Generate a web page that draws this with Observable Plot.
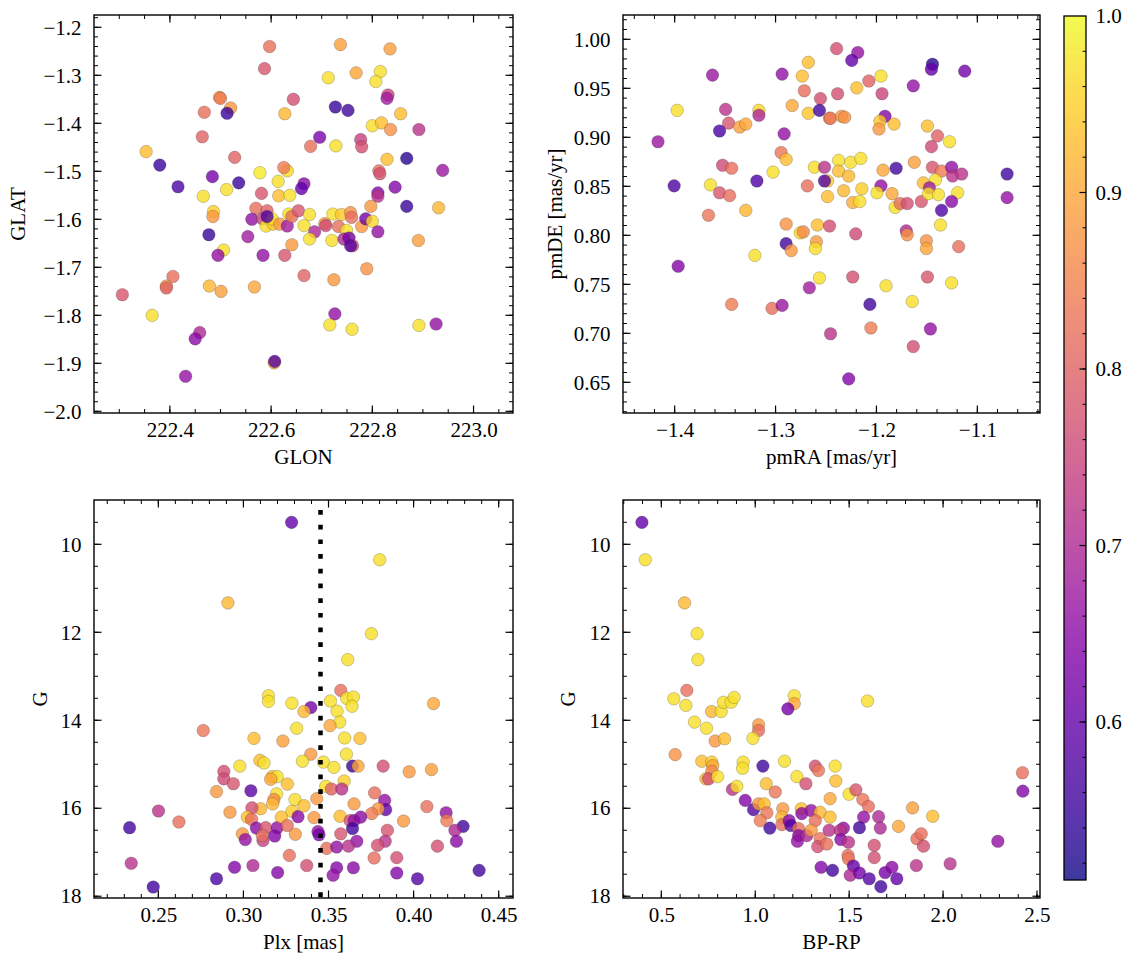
<!DOCTYPE html>
<html><head><meta charset="utf-8">
<script src="https://cdn.jsdelivr.net/npm/d3@7"></script>
<script src="https://cdn.jsdelivr.net/npm/@observablehq/plot@0.6"></script>
<style>
body{margin:0;background:#fff;}
#fig{position:relative;width:1133px;height:965px;background:#fff;overflow:hidden;}
#fig svg{position:absolute;overflow:visible;}
</style></head><body><div id="fig"></div>
<script>
const FONT = "'Liberation Serif', 'DejaVu Serif', serif";
const FS = 21;
const probDomain = [0.5105, 1.0];

// [GLON, GLAT, probability]
const galPts = [
[222.596,-1.239,0.82],[222.586,-1.285,0.78],[222.497,-1.345,0.88],[222.499,-1.347,0.84],[222.643,-1.349,0.77],
[222.519,-1.367,0.88],[222.512,-1.378,0.55],[222.467,-1.376,0.82],[222.626,-1.379,0.92],[222.463,-1.427,0.80],
[222.352,-1.458,0.93],[222.527,-1.470,0.80],[222.379,-1.486,0.55],[222.631,-1.498,0.96],[222.624,-1.491,0.84],
[222.577,-1.502,0.98],[222.483,-1.510,0.62],[222.535,-1.523,0.55],[222.415,-1.531,0.57],[222.613,-1.520,0.97],
[222.465,-1.551,0.97],[222.511,-1.537,0.97],[222.580,-1.545,0.78],[222.614,-1.550,0.93],[222.636,-1.549,0.97],
[222.664,-1.525,0.65],[222.659,-1.535,0.60],[222.485,-1.583,0.95],[222.484,-1.593,0.88],[222.569,-1.576,0.82],
[222.591,-1.581,0.80],[222.561,-1.599,0.66],[222.582,-1.598,0.75],[222.589,-1.613,0.97],[222.603,-1.609,0.94],
[222.601,-1.598,0.97],[222.591,-1.593,0.58],[222.616,-1.609,0.88],[222.631,-1.613,0.68],[222.634,-1.588,0.97],
[222.640,-1.593,0.82],[222.653,-1.581,0.78],[222.664,-1.612,0.97],[222.476,-1.631,0.55],[222.553,-1.635,0.68],
[222.505,-1.663,0.97],[222.494,-1.674,0.66],[222.583,-1.674,0.66],[222.626,-1.674,0.78],[222.640,-1.652,0.88],
[222.405,-1.718,0.82],[222.392,-1.738,0.88],[222.392,-1.742,0.80],[222.305,-1.756,0.78],[222.477,-1.738,0.92],
[222.500,-1.749,0.89],[222.566,-1.740,0.90],[222.664,-1.716,0.80],[222.364,-1.799,0.97],[222.458,-1.835,0.70],
[222.449,-1.848,0.65],[222.605,-1.898,0.92],[222.606,-1.895,0.58],[222.430,-1.926,0.66],
[222.736,-1.235,0.89],[222.834,-1.244,0.89],[222.712,-1.304,0.97],[222.767,-1.294,0.90],[222.815,-1.291,0.97],
[222.806,-1.312,0.97],[222.830,-1.340,0.75],[222.828,-1.347,0.68],[222.726,-1.365,0.55],[222.751,-1.372,0.56],
[222.855,-1.379,0.93],[222.799,-1.404,0.97],[222.817,-1.398,0.93],[222.835,-1.412,0.87],[222.891,-1.412,0.72],
[222.695,-1.428,0.63],[222.677,-1.447,0.82],[222.727,-1.446,0.97],[222.776,-1.433,0.74],[222.778,-1.448,0.77],
[222.828,-1.474,0.93],[222.867,-1.472,0.53],[222.938,-1.497,0.67],[222.812,-1.498,0.82],[222.814,-1.504,0.77],
[222.810,-1.544,0.65],[222.810,-1.551,0.72],[222.844,-1.532,0.64],[222.867,-1.572,0.55],[222.930,-1.575,0.92],
[222.796,-1.572,0.88],[222.675,-1.589,0.97],[222.721,-1.588,0.97],[222.738,-1.589,0.94],[222.756,-1.585,0.87],
[222.758,-1.595,0.82],[222.705,-1.608,0.88],[222.707,-1.612,0.76],[222.685,-1.625,0.70],[222.675,-1.640,0.97],
[222.719,-1.643,0.97],[222.732,-1.614,0.82],[222.748,-1.622,0.97],[222.743,-1.640,0.70],[222.753,-1.638,0.62],
[222.760,-1.654,0.77],[222.756,-1.654,0.58],[222.778,-1.614,0.88],[222.786,-1.598,0.62],[222.799,-1.603,0.96],
[222.810,-1.625,0.66],[222.890,-1.643,0.89],[222.788,-1.702,0.87],[222.723,-1.725,0.88],[222.725,-1.796,0.66],
[222.715,-1.819,0.97],[222.759,-1.828,0.97],[222.891,-1.820,0.97],[222.925,-1.817,0.66]
];

// [pmRA, pmDE, probability]
const pmPts = [
[-1.268,0.977,0.93],[-1.363,0.964,0.67],[-1.294,0.965,0.66],[-1.274,0.963,0.93],[-1.272,0.948,0.82],
[-1.256,0.940,0.77],[-1.398,0.928,0.97],[-1.350,0.929,0.72],[-1.317,0.928,0.96],[-1.317,0.923,0.70],
[-1.284,0.933,0.90],[-1.268,0.925,0.94],[-1.257,0.928,0.56],[-1.247,0.920,0.84],[-1.347,0.915,0.78],
[-1.336,0.911,0.89],[-1.330,0.914,0.90],[-1.356,0.907,0.57],[-1.417,0.896,0.67],[-1.292,0.904,0.66],
[-1.295,0.885,0.83],[-1.290,0.878,0.93],[-1.353,0.872,0.76],[-1.344,0.869,0.82],[-1.303,0.865,0.97],
[-1.262,0.870,0.97],[-1.252,0.870,0.72],[-1.249,0.856,0.95],[-1.252,0.856,0.58],[-1.401,0.851,0.57],
[-1.319,0.856,0.57],[-1.365,0.852,0.97],[-1.269,0.851,0.82],[-1.356,0.844,0.78],[-1.346,0.841,0.82],
[-1.249,0.840,0.93],[-1.330,0.826,0.92],[-1.367,0.821,0.83],[-1.290,0.812,0.87],[-1.259,0.811,0.93],
[-1.276,0.803,0.96],[-1.273,0.804,0.86],[-1.290,0.792,0.56],[-1.285,0.785,0.88],[-1.260,0.794,0.88],
[-1.261,0.787,0.97],[-1.321,0.780,0.97],[-1.397,0.769,0.64],[-1.257,0.757,0.97],[-1.267,0.747,0.68],
[-1.344,0.730,0.84],[-1.304,0.726,0.82],[-1.294,0.729,0.67],
[-1.240,0.991,0.77],[-1.219,0.987,0.66],[-1.225,0.979,0.60],[-1.145,0.975,0.53],[-1.146,0.970,0.60],
[-1.113,0.968,0.62],[-1.196,0.963,0.97],[-1.208,0.958,0.80],[-1.220,0.951,0.93],[-1.164,0.953,0.66],
[-1.239,0.945,0.77],[-1.195,0.945,0.75],[-1.246,0.920,0.84],[-1.235,0.922,0.88],[-1.232,0.921,0.87],
[-1.192,0.922,0.64],[-1.197,0.917,0.94],[-1.198,0.909,0.88],[-1.183,0.914,0.93],[-1.150,0.912,0.93],
[-1.140,0.902,0.80],[-1.128,0.896,0.97],[-1.146,0.891,0.76],[-1.238,0.877,0.97],[-1.226,0.875,0.97],
[-1.216,0.879,0.97],[-1.238,0.866,0.93],[-1.228,0.861,0.92],[-1.194,0.867,0.90],[-1.181,0.869,0.56],
[-1.163,0.875,0.89],[-1.145,0.870,0.78],[-1.136,0.866,0.84],[-1.126,0.870,0.66],[-1.125,0.861,0.72],
[-1.116,0.863,0.72],[-1.071,0.863,0.56],[-1.071,0.839,0.66],[-1.233,0.846,0.92],[-1.215,0.848,0.95],
[-1.224,0.834,0.91],[-1.217,0.835,0.97],[-1.196,0.851,0.66],[-1.200,0.844,0.97],[-1.185,0.843,0.90],
[-1.182,0.829,0.97],[-1.177,0.833,0.82],[-1.170,0.833,0.77],[-1.156,0.835,0.78],[-1.154,0.854,0.93],
[-1.142,0.857,0.97],[-1.148,0.849,0.68],[-1.149,0.843,0.97],[-1.139,0.842,0.97],[-1.120,0.844,0.97],
[-1.126,0.835,0.65],[-1.136,0.826,0.57],[-1.137,0.811,0.97],[-1.247,0.810,0.77],[-1.221,0.802,0.76],
[-1.171,0.805,0.70],[-1.170,0.801,0.87],[-1.151,0.795,0.87],[-1.151,0.787,0.90],[-1.119,0.789,0.82],
[-1.224,0.758,0.77],[-1.150,0.758,0.78],[-1.191,0.749,0.97],[-1.126,0.752,0.97],[-1.207,0.730,0.56],
[-1.165,0.733,0.97],[-1.246,0.700,0.72],[-1.206,0.706,0.84],[-1.147,0.705,0.66],[-1.164,0.687,0.77],
[-1.228,0.654,0.64]
];

// [Plx, G, probability]
const plxPts = [
[0.3280,9.49,0.60],[0.2906,11.32,0.92],[0.3144,13.43,0.97],[0.3144,13.56,0.97],[0.3282,13.60,0.97],
[0.3310,14.17,0.97],[0.2761,14.22,0.83],[0.3059,14.40,0.93],[0.3229,14.46,0.89],[0.3094,14.90,0.93],
[0.3118,14.96,0.97],[0.2976,15.03,0.97],[0.2882,15.15,0.77],[0.2882,15.32,0.76],[0.2938,15.43,0.78],
[0.3167,15.27,0.93],[0.3196,15.27,0.97],[0.3157,15.33,0.90],[0.3255,15.44,0.93],[0.2839,15.61,0.88],
[0.3041,15.59,0.59],[0.3192,15.66,0.97],[0.3176,15.79,0.86],[0.3169,15.89,0.92],[0.3300,15.79,0.97],
[0.2918,16.08,0.88],[0.3098,16.00,0.92],[0.3047,15.98,0.77],[0.3282,16.06,0.95],[0.3318,16.18,0.65],
[0.2498,16.05,0.72],[0.2328,16.43,0.56],[0.2618,16.30,0.82],[0.3020,16.19,0.93],[0.3045,16.24,0.82],
[0.3073,16.44,0.65],[0.3128,16.43,0.78],[0.3196,16.43,0.66],[0.3220,16.19,0.93],[0.3255,16.38,0.82],
[0.2991,16.57,0.88],[0.3008,16.70,0.66],[0.3112,16.72,0.74],[0.3108,16.61,0.82],[0.3181,16.62,0.64],
[0.3302,16.58,0.88],[0.2338,17.24,0.72],[0.3267,17.06,0.82],[0.3053,17.29,0.70],[0.2945,17.33,0.64],
[0.3198,17.45,0.64],[0.2839,17.59,0.57],[0.2467,17.78,0.56],
[0.3798,10.34,0.97],[0.3749,12.02,0.97],[0.3610,12.61,0.97],[0.3569,13.31,0.82],[0.3508,13.55,0.97],
[0.3604,13.49,0.97],[0.3643,13.46,0.97],[0.3635,13.67,0.97],[0.3547,13.78,0.97],[0.3563,14.03,0.97],
[0.3393,13.70,0.62],[0.3353,13.79,0.92],[0.4114,13.61,0.90],[0.3506,14.11,0.90],[0.3592,14.39,0.97],
[0.3682,14.40,0.93],[0.3602,14.76,0.97],[0.3393,14.76,0.88],[0.3344,14.92,0.97],[0.3467,14.94,0.97],
[0.3529,15.06,0.97],[0.3638,15.03,0.55],[0.3671,15.03,0.90],[0.3818,15.03,0.77],[0.3971,15.16,0.88],
[0.4102,15.11,0.89],[0.3589,15.37,0.95],[0.3481,15.49,0.97],[0.3514,15.55,0.80],[0.3575,15.55,0.72],
[0.3428,15.77,0.88],[0.3353,15.93,0.93],[0.3768,15.64,0.82],[0.3647,15.89,0.88],[0.3827,15.81,0.66],
[0.3833,16.02,0.60],[0.3789,16.00,0.88],[0.3751,16.11,0.84],[0.4075,15.95,0.82],[0.4188,16.09,0.66],
[0.4192,16.27,0.84],[0.3412,16.20,0.88],[0.3565,16.17,0.93],[0.3624,16.27,0.77],[0.3647,16.27,0.66],
[0.3686,16.19,0.65],[0.3638,16.45,0.56],[0.3938,16.28,0.88],[0.4288,16.40,0.56],[0.4240,16.49,0.70],
[0.4249,16.74,0.65],[0.3843,16.49,0.78],[0.3435,16.52,0.66],[0.3441,16.59,0.62],[0.3569,16.57,0.78],
[0.3663,16.74,0.66],[0.3830,16.74,0.72],[0.3785,16.83,0.77],[0.4137,16.85,0.77],[0.3486,16.90,0.82],
[0.3545,16.87,0.66],[0.3614,16.85,0.72],[0.3765,17.12,0.82],[0.3898,17.11,0.77],[0.3369,17.29,0.77],
[0.3545,17.34,0.64],[0.3524,17.51,0.66],[0.3643,17.34,0.65],[0.3898,17.46,0.64],[0.4020,17.59,0.58],
[0.4382,17.40,0.56]
];

// [BP-RP, G, probability]
const cmdPts = [
[0.394,9.49,0.60],[0.412,10.34,0.97],[0.621,11.32,0.92],[0.688,12.02,0.97],[0.692,12.61,0.97],
[0.633,13.31,0.82],[0.564,13.50,0.97],[0.628,13.65,0.97],[0.674,14.03,0.97],[0.738,14.17,0.97],
[0.765,13.79,0.92],[0.816,13.79,0.97],[0.828,13.58,0.97],[0.869,13.58,0.97],[0.885,13.47,0.97],
[0.784,14.46,0.88],[0.834,14.41,0.93],[0.571,14.77,0.87],[0.713,14.92,0.93],[0.766,14.94,0.95],
[0.771,15.02,0.90],[0.766,15.15,0.86],[0.735,15.32,0.92],[0.749,15.32,0.77],[0.797,15.27,0.97],
[0.933,14.94,0.97],[0.930,15.08,0.97],[1.015,14.09,0.88],[1.015,14.22,0.82],[0.985,14.40,0.97],
[1.038,15.03,0.56],[1.153,14.92,0.97],[1.205,13.43,0.97],[1.205,13.61,0.90],[1.171,13.73,0.62],
[1.219,15.27,0.97],[1.267,15.43,0.77],[1.317,15.03,0.77],[1.334,15.13,0.83],[0.876,15.56,0.72],
[0.899,15.49,0.97],[1.056,15.43,0.93],[1.104,15.62,0.83],[0.944,15.81,0.64],[0.988,16.02,0.58],
[1.015,15.89,0.88],[1.045,15.89,0.93],[1.059,16.09,0.83],[1.024,16.27,0.84],[1.075,16.44,0.56],
[1.144,16.00,0.88],[1.139,16.19,0.92],[1.139,16.36,0.82],[1.178,16.27,0.65],[1.187,16.38,0.58],
[1.242,16.00,0.93],[1.245,16.11,0.65],[1.295,16.04,0.66],[1.343,16.08,0.92],[1.317,16.27,0.82],
[1.228,16.45,0.82],[1.228,16.61,0.65],[1.222,16.74,0.66],[1.272,16.61,0.70],[1.295,16.49,0.88],
[1.343,16.68,0.83],[1.330,16.86,0.77],[1.378,16.80,0.82],[1.391,16.49,0.72],[1.348,17.33,0.64],
[1.595,13.55,0.97],[1.423,15.03,0.97],[1.426,15.37,0.93],[1.396,15.77,0.90],[1.497,15.67,0.97],
[1.533,15.57,0.78],[1.570,15.79,0.83],[1.600,15.95,0.82],[1.396,16.19,0.93],[1.574,16.19,0.66],
[1.654,16.18,0.70],[1.663,16.44,0.70],[1.552,16.43,0.56],[1.467,16.44,0.66],[1.450,16.49,0.72],
[1.453,16.70,0.65],[1.494,16.76,0.72],[1.631,16.83,0.77],[1.491,17.06,0.82],[1.494,17.14,0.83],
[1.631,17.11,0.77],[1.520,17.30,0.60],[1.503,17.51,0.70],[1.552,17.46,0.62],[1.409,17.40,0.56],
[1.604,17.59,0.58],[1.666,17.77,0.56],[1.689,17.45,0.62],[1.725,17.33,0.65],[1.751,17.59,0.60],
[1.835,15.98,0.89],[1.942,16.17,0.93],[1.760,16.40,0.90],[1.858,16.68,0.82],[1.881,16.57,0.82],
[1.893,16.85,0.77],[1.855,17.29,0.72],[2.035,17.25,0.72],[2.289,16.74,0.66],[2.420,15.18,0.82],
[2.422,15.60,0.64]
];

const plxLine = [0.345];

// tick labels
const glonTicks = [222.4, 222.6, 222.8, 223.0];
const glatTicks = [-1.2, -1.3, -1.4, -1.5, -1.6, -1.7, -1.8, -1.9, -2.0];
const pmraTicks = [-1.4, -1.3, -1.2, -1.1];
const pmdeTicks = [1.00, 0.95, 0.90, 0.85, 0.80, 0.75, 0.70, 0.65];
const plxTicks = [0.25, 0.30, 0.35, 0.40, 0.45];
const gTicks = [10, 12, 14, 16, 18];
const bprpTicks = [0.5, 1.0, 1.5, 2.0, 2.5];
const cbarTicks = [0.6, 0.7, 0.8, 0.9, 1.0];

const fmt0 = d3.format("d"), fmt1 = d3.format(".1f"), fmt2 = d3.format(".2f");
const minor = (a, b, s) => d3.range(Math.round(a / s), Math.round(b / s) + 1).map(k => +(k * s).toFixed(6));

const colorScale = {type: "linear", scheme: "plasma", domain: probDomain};
const fig = document.getElementById("fig");

function frameMark({xMajor, xMinor, yMajor, yMinor, xLabel, yLabel, yLabelOff}) {
  return (index, scales, values, dims) => {
    const {x, y} = scales;
    const {width, height, marginLeft: l, marginTop: t, marginRight, marginBottom} = dims;
    const r = width - marginRight, b = height - marginBottom;
    const g = d3.create("svg:g");
    const tk = g.append("g").attr("stroke", "#000").attr("fill", "none");
    const addX = (vals, len, sw) => {
      for (const v of vals) {
        const px = x(v);
        if (px < l + 0.5 || px > r - 0.5) continue;
        tk.append("line").attr("x1", px).attr("x2", px).attr("y1", b).attr("y2", b - len).attr("stroke-width", sw);
        tk.append("line").attr("x1", px).attr("x2", px).attr("y1", t).attr("y2", t + len).attr("stroke-width", sw);
      }
    };
    const addY = (vals, len, sw) => {
      for (const v of vals) {
        const py = y(v);
        if (py < t + 0.5 || py > b - 0.5) continue;
        tk.append("line").attr("y1", py).attr("y2", py).attr("x1", l).attr("x2", l + len).attr("stroke-width", sw);
        tk.append("line").attr("y1", py).attr("y2", py).attr("x1", r).attr("x2", r - len).attr("stroke-width", sw);
      }
    };
    addX(xMinor, 4, 1); addY(yMinor, 4, 1);
    addX(xMajor, 7.5, 1.2); addY(yMajor, 7.5, 1.2);
    g.append("rect").attr("x", l).attr("y", t).attr("width", r - l).attr("height", b - t)
      .attr("fill", "none").attr("stroke", "#000").attr("stroke-width", 1.4);
    g.append("text").attr("x", (l + r) / 2).attr("y", b + 44).attr("dy", "0.35em")
      .attr("text-anchor", "middle").attr("fill", "#000").attr("font-size", FS).text(xLabel);
    g.append("text").attr("transform", `translate(${l - yLabelOff},${(t + b) / 2}) rotate(-90)`).attr("dy", "0.35em")
      .attr("text-anchor", "middle").attr("fill", "#000").attr("font-size", FS).text(yLabel);
    return g.node();
  };
}

function panel(o) {
  const mL = 94, mT = 15, mB = 67;
  const width = mL + (o.fx1 - o.fx0) + o.mR;
  const height = 480;
  const marks = [
    Plot.dot(o.data, {x: d => d[0], y: d => d[1], fill: d => d[2], r: 6.3, fillOpacity: 0.8,
      stroke: "#222", strokeOpacity: 0.45, strokeWidth: 0.5}),
    ...(o.extra || []),
    Plot.axisX({ticks: o.xTicks, tickFormat: o.xFmt, tickSize: 0, tickPadding: 9, label: null}),
    Plot.axisY({ticks: o.yTicks, tickFormat: o.yFmt, tickSize: 0, tickPadding: 13, label: null}),
    frameMark({xMajor: o.xTicks, xMinor: o.xMinor, yMajor: o.yTicks, yMinor: o.yMinor,
      xLabel: o.xLabel, yLabel: o.yLabel, yLabelOff: o.yLabelOff})
  ];
  const svg = Plot.plot({
    width, height, marginLeft: mL, marginRight: o.mR, marginTop: mT, marginBottom: mB,
    style: {fontFamily: FONT, fontSize: FS + "px", background: "white", color: "#000"},
    x: {domain: o.xDomain, label: null},
    y: {domain: o.yDomain, reverse: !!o.yReverse, label: null},
    color: colorScale,
    marks
  });
  svg.style.left = (o.fx0 - mL) + "px";
  svg.style.top = (o.fy0 - mT) + "px";
  fig.appendChild(svg);
}

panel({data: galPts, fx0: 94, fx1: 513, fy0: 15, mR: 16,
  xDomain: [222.25, 223.078], yDomain: [-2.0035, -1.1744],
  xTicks: glonTicks, yTicks: glatTicks, xFmt: fmt1, yFmt: fmt1,
  xMinor: minor(222.25, 223.05, 0.05), yMinor: minor(-2.0, -1.18, 0.02),
  xLabel: "GLON", yLabel: "GLAT", yLabelOff: 76});

panel({data: pmPts, fx0: 623, fx1: 1040, fy0: 15, mR: 10,
  xDomain: [-1.4512, -1.0379], yDomain: [0.6187, 1.0248],
  xTicks: pmraTicks, yTicks: pmdeTicks, xFmt: fmt1, yFmt: fmt2,
  xMinor: minor(-1.44, -1.04, 0.02), yMinor: minor(0.62, 1.02, 0.01),
  xLabel: "pmRA [mas/yr]", yLabel: "pmDE [mas/yr]", yLabelOff: 68});

panel({data: plxPts, fx0: 94, fx1: 513, fy0: 500, mR: 16,
  xDomain: [0.2122, 0.4584], yDomain: [8.993, 18.04], yReverse: true,
  xTicks: plxTicks, yTicks: gTicks, xFmt: fmt2, yFmt: fmt0,
  xMinor: minor(0.22, 0.45, 0.01), yMinor: minor(9, 18, 0.5),
  xLabel: "Plx [mas]", yLabel: "G", yLabelOff: 54,
  extra: [Plot.ruleX(plxLine, {x: d => d, stroke: "#000", strokeWidth: 4.5, strokeDasharray: "4.7,10", strokeDashoffset: 4.7})]});

panel({data: cmdPts, fx0: 623, fx1: 1040, fy0: 500, mR: 10,
  xDomain: [0.296, 2.516], yDomain: [8.993, 18.04], yReverse: true,
  xTicks: bprpTicks, yTicks: gTicks, xFmt: fmt1, yFmt: fmt0,
  xMinor: minor(0.3, 2.5, 0.1), yMinor: minor(9, 18, 0.5),
  xLabel: "BP-RP", yLabel: "G", yLabelOff: 55});

// colorbar
{
  const n = 432;
  const [lo, hi] = probDomain;
  const bins = d3.range(n).map(i => ({y1: lo + (hi - lo) * i / n, y2: lo + (hi - lo) * (i + 1) / n, v: lo + (hi - lo) * (i + 0.5) / n}));
  const cbMinor = minor(0.52, 1.0, 0.02);
  const cbFrame = (index, {y}, values, dims) => {
    const {width, height, marginLeft: l, marginTop: t, marginRight, marginBottom} = dims;
    const r = width - marginRight, b = height - marginBottom;
    const g = d3.create("svg:g");
    const tk = g.append("g").attr("stroke", "#000");
    for (const v of cbMinor) { const py = y(v); if (py < t + 0.5 || py > b - 0.5) continue;
      tk.append("line").attr("x1", r).attr("x2", r - 3.5).attr("y1", py).attr("y2", py).attr("stroke-width", 1); }
    for (const v of cbarTicks) { const py = y(v); if (py < t + 0.5 || py > b - 0.5) continue;
      tk.append("line").attr("x1", r).attr("x2", r - 6.5).attr("y1", py).attr("y2", py).attr("stroke-width", 1.2); }
    g.append("rect").attr("x", l).attr("y", t).attr("width", r - l).attr("height", b - t)
      .attr("fill", "none").attr("stroke", "#000").attr("stroke-width", 1.3);
    return g.node();
  };
  const svg = Plot.plot({
    width: 83, height: 965, marginLeft: 14, marginRight: 47, marginTop: 16, marginBottom: 85,
    style: {fontFamily: FONT, fontSize: FS + "px", background: "white", color: "#000"},
    x: {domain: [0, 1], axis: null},
    y: {domain: probDomain, label: null},
    color: colorScale,
    marks: [
      Plot.rect(bins, {x1: () => 0, x2: () => 1, y1: "y1", y2: "y2", fill: "v", fillOpacity: 0.8, shapeRendering: "crispEdges"}),
      Plot.axisY({anchor: "right", ticks: cbarTicks, tickFormat: fmt1, tickSize: 0, tickPadding: 9, label: null}),
      cbFrame
    ]
  });
  svg.style.left = "1050px";
  svg.style.top = "0px";
  fig.appendChild(svg);
}
</script>
</body></html>
